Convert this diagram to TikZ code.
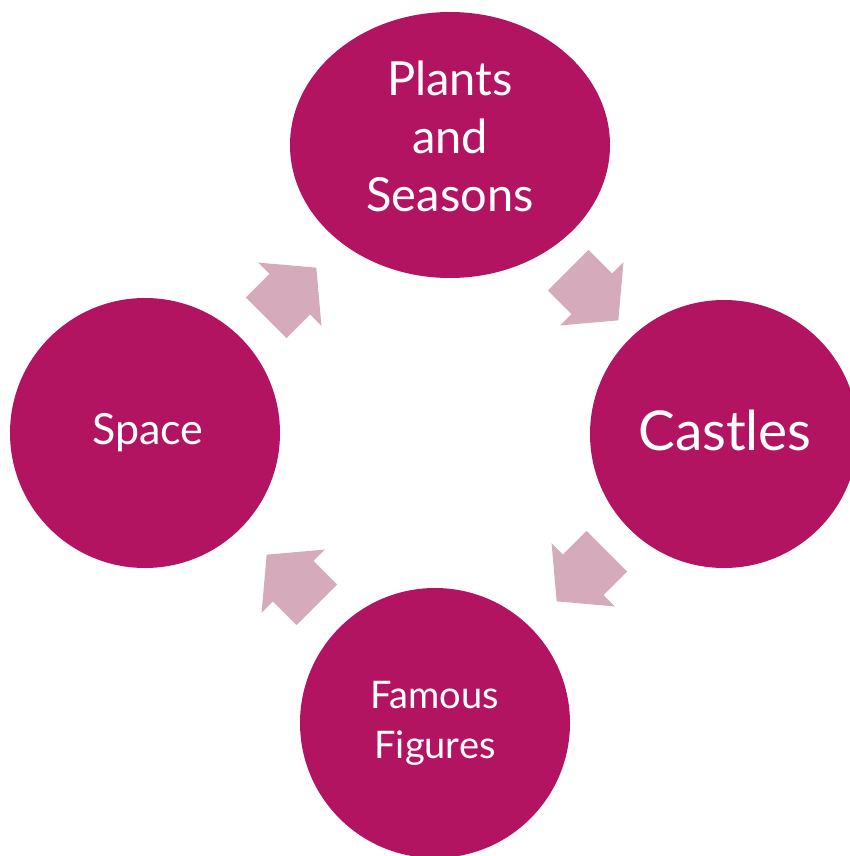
\documentclass[tikz,border=0pt]{standalone}
\usepackage{fontspec}
\setmainfont{Lato}
\usetikzlibrary{shapes.geometric,shapes.arrows}
\definecolor{topicfill}{RGB}{179,20,98}
\definecolor{arrowfill}{RGB}{213,170,186}
\begin{document}
\begin{tikzpicture}[x=1pt,y=-1pt,
  topic/.style={fill=topicfill, inner sep=0pt},
  roundtopic/.style={topic, circle, minimum size=270pt},
  topictext/.style={text=white, inner sep=0pt, align=center},
  blockarrow/.style={single arrow, fill=arrowfill, minimum height=71pt,
    inner xsep=0pt, inner ysep=28.5pt, single arrow head extend=16pt,
    single arrow tip angle=100, anchor=tail}]
\useasboundingbox (0,0) rectangle (850,856);
\clip (0,0) rectangle (850,856);
\node[topic, ellipse, minimum width=320pt, minimum height=266pt] (plants) at (450,145) {};
\node[roundtopic, minimum size=268pt] (castles) at (724,434) {};
\node[roundtopic] (famous) at (435,723) {};
\node[roundtopic] (space) at (145,433) {};
\node[topictext, font=\fontsize{47}{58}\selectfont] (plantstext) at (450,136) {Plants\\and\\Seasons};
\node[topictext, font=\fontsize{55}{55}\selectfont] (castlestext) at (725,430) {Castles};
\node[topictext, font=\fontsize{38}{50}\selectfont] (famoustext) at (435,723) {Famous\\Figures};
\node[topictext, font=\fontsize{43}{50}\selectfont] (spacetext) at (148,433) {Space};
\node[blockarrow, rotate=45] (a1) at (266,318) {};
\node[blockarrow, rotate=-45] (a2) at (568,270) {};
\node[blockarrow, rotate=-135] (a3) at (607,551) {};
\node[blockarrow, rotate=135] (a4) at (317,605) {};
\end{tikzpicture}
\end{document}
